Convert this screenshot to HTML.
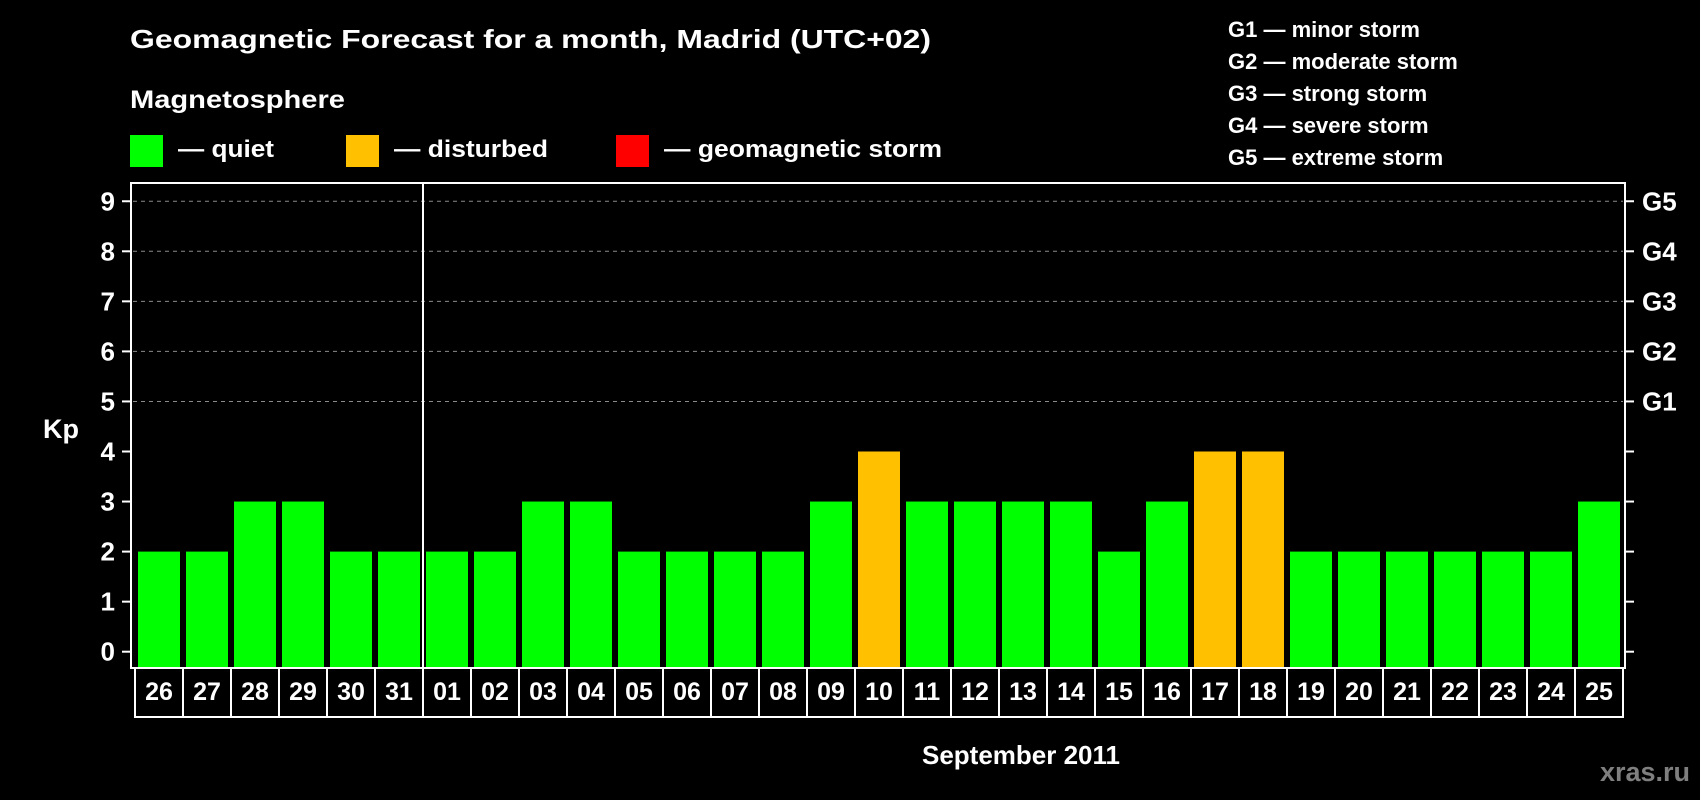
<!DOCTYPE html>
<html><head><meta charset="utf-8"><style>
html,body{margin:0;padding:0;background:#000;}
svg{display:block;font-family:"Liberation Sans",Arial,sans-serif;font-weight:bold;}
</style></head><body>
<svg id="chart" width="1700" height="800" viewBox="0 0 1700 800">
<rect x="0" y="0" width="1700" height="800" fill="#000"/>
<text x="130" y="48" fill="#fff" font-size="26" textLength="801" lengthAdjust="spacingAndGlyphs">Geomagnetic Forecast for a month, Madrid (UTC+02)</text>
<text x="130" y="108" fill="#fff" font-size="25" textLength="215" lengthAdjust="spacingAndGlyphs">Magnetosphere</text>
<g>
<rect x="130" y="135" width="33" height="32" fill="#00ff00"/>
<text x="178" y="157" fill="#fff" font-size="24" textLength="96" lengthAdjust="spacingAndGlyphs">— quiet</text></g>
<g>
<rect x="346" y="135" width="33" height="32" fill="#ffc000"/>
<text x="394" y="157" fill="#fff" font-size="24" textLength="154" lengthAdjust="spacingAndGlyphs">— disturbed</text></g>
<g>
<rect x="616" y="135" width="33" height="32" fill="#ff0000"/>
<text x="664" y="157" fill="#fff" font-size="24" textLength="278" lengthAdjust="spacingAndGlyphs">— geomagnetic storm</text></g>
<g fill="#fff" font-size="22">
<text x="1228" y="37">G1 — minor storm</text>
<text x="1228" y="69">G2 — moderate storm</text>
<text x="1228" y="101">G3 — strong storm</text>
<text x="1228" y="133">G4 — severe storm</text>
<text x="1228" y="165">G5 — extreme storm</text>
</g>
<g id="grid"></g>
<g id="bars"></g>
<g id="axes"></g>
<text x="43" y="438" fill="#fff" font-size="27">Kp</text>
<text x="1021" y="764" fill="#fff" font-size="26" text-anchor="middle">September 2011</text>
<text x="1690" y="781" fill="#7f7f7f" font-size="27" text-anchor="end">xras.ru</text>
</svg>
<script>
const days = ["26","27","28","29","30","31","01","02","03","04","05","06","07","08","09","10","11","12","13","14","15","16","17","18","19","20","21","22","23","24","25"];
const kp = [2,2,3,3,2,2,2,2,3,3,2,2,2,2,3,4,3,3,3,3,2,3,4,4,2,2,2,2,2,2,3];
const yTicks = [0,1,2,3,4,5,6,7,8,9];
const gLabels = ["G1","G2","G3","G4","G5"];
const gLevels = [5,6,7,8,9];

const NS = "http://www.w3.org/2000/svg";
const plotL = 131, plotR = 1625, plotT = 183, plotB = 668;
const y0 = 651.7, unit = 50.05;
const yScale = v => y0 - v * unit;
const x0 = 138, pitch = 48, bw = 42;
const xScale = i => x0 + i * pitch;
function mk(tag, attrs, parent){const e=document.createElementNS(NS,tag);for(const k in attrs)e.setAttribute(k,attrs[k]);parent.appendChild(e);return e;}
const grid = document.getElementById("grid"), bars = document.getElementById("bars"), axes = document.getElementById("axes");

gLevels.forEach(v=>{
  const l = mk("line",{x1:plotL+2,x2:plotR-2,y1:yScale(v),y2:yScale(v),stroke:"#8a8a8a","stroke-width":1,"stroke-dasharray":"4,4"},grid);
  
  
});

kp.forEach((v,i)=>{
  const r = mk("rect",{x:xScale(i),y:yScale(v),width:bw,height:plotB-yScale(v),fill:v>=5?"#ff0000":(v>=4?"#ffc000":"#00ff00")},bars);
  
  
});

const frame = mk("rect",{x:plotL,y:plotT,width:plotR-plotL,height:plotB-plotT,fill:"none",stroke:"#fff","stroke-width":2},axes);


const sep = mk("line",{x1:423,x2:423,y1:plotT,y2:plotB,stroke:"#fff","stroke-width":2},axes);



yTicks.forEach(v=>{
  const y = yScale(v);
  mk("line",{x1:plotL-9,x2:plotL,y1:y,y2:y,stroke:"#fff","stroke-width":2},axes);
  mk("line",{x1:plotR,x2:plotR+9,y1:y,y2:y,stroke:"#fff","stroke-width":2},axes);
  const t = mk("text",{x:115,y:y+9,fill:"#fff","font-size":26,"text-anchor":"end"},axes);
  t.textContent = v;
  
  
});
gLevels.forEach((v,i)=>{
  const t = mk("text",{x:1642,y:yScale(v)+9,fill:"#fff","font-size":26},axes);
  t.textContent = gLabels[i];
  
  
});

days.forEach((d,i)=>{
  const bx = xScale(i) - 3;
  const b = mk("rect",{x:bx,y:plotB,width:pitch,height:49,fill:"#000",stroke:"#fff","stroke-width":2},axes);
  
  
  const t = mk("text",{x:bx+pitch/2,y:700,fill:"#fff","font-size":25,"text-anchor":"middle"},axes);
  t.textContent = d;
  
  
});
</script>
</body></html>
